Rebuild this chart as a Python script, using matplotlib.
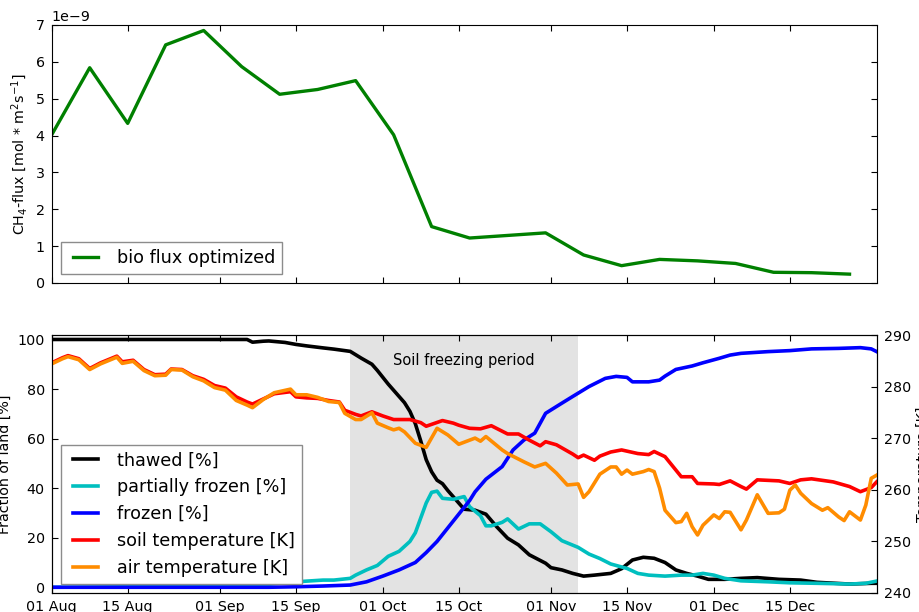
"""CH4 bio flux and soil freeze/thaw state, Aug-Dec.

Top: weekly optimized bio flux. Bottom: fraction of land in each
freeze state (left axis) with soil and air temperature (right axis).
"""

import numpy as np
import matplotlib
matplotlib.use('Agg')
import matplotlib.pyplot as plt
import matplotlib.dates as mdates


START = np.datetime64('2013-08-01')
END_DAY = 152

# weekly optimized bio flux [mol m-2 s-1], days after 01 Aug
flux_days = [0, 7, 14, 21, 28, 35, 42, 49, 56, 63, 70,
             77, 84, 91, 98, 105, 112, 119, 126, 133, 140, 147]
flux = [4.02, 5.84, 4.33, 6.46, 6.85, 5.87, 5.12, 5.25, 5.49, 4.02, 1.53,
        1.22, 1.29, 1.36, 0.76, 0.47, 0.64, 0.60, 0.53, 0.29, 0.28, 0.24]

# fraction of land [%]
thawed_days = [0, 36, 37, 39, 40, 43, 45, 47, 50, 52, 55, 57, 59, 60, 62,
               63, 65, 66, 67, 68, 69, 70, 71, 72, 73, 74, 76, 78, 80, 82,
               84, 86, 88, 91, 92, 94, 96, 98, 100, 103, 105, 107, 109, 111,
               113, 115, 117, 119, 121, 124, 127, 130, 134, 138, 141, 147,
               151, 152]
thawed = [100.0, 100.0, 98.9, 99.3, 99.4, 98.8, 98.0, 97.4, 96.6, 96.1,
          95.2, 92.5, 90.0, 87.5, 82.0, 79.5, 74.5, 71.0, 66.0, 59.0, 51.5,
          46.6, 43.2, 41.8, 39.0, 36.5, 31.5, 31.1, 29.5, 24.4, 19.8, 17.1,
          13.1, 9.7, 7.9, 7.0, 5.6, 4.5, 4.9, 5.6, 7.5, 11.0, 12.1, 11.7,
          10.0, 7.0, 5.6, 4.5, 3.2, 3.2, 3.6, 3.9, 3.2, 2.9, 2.0, 1.3,
          1.6, 1.6]

partial_days = [0, 36, 40, 45, 50, 52, 55, 56, 58, 60, 62, 64, 66, 67, 68,
                69, 70, 71, 72, 74, 76, 77, 79, 80, 81, 83, 84, 86, 88, 90,
                92, 94, 97, 99, 101, 103, 106, 108, 110, 113, 116, 118, 120,
                122, 124, 127, 132, 136, 141, 147, 150, 152]
partial = [0.0, 0.5, 1.2, 2.2, 2.9, 2.9, 3.6, 4.9, 7.0, 8.8, 12.5, 14.5,
           18.5, 22.0, 28.0, 34.0, 38.3, 38.8, 35.9, 35.5, 36.6, 32.5, 28.9,
           24.8, 24.8, 26.2, 27.6, 23.5, 25.6, 25.6, 22.4, 18.8, 16.1, 13.4,
           11.6, 9.4, 7.6, 5.6, 4.9, 4.5, 4.9, 4.9, 5.6, 4.9, 3.6, 2.6, 2.2,
           1.8, 1.6, 1.3, 1.6, 2.5]

frozen_days = [0, 40, 45, 50, 55, 58, 61, 64, 67, 69, 71, 73, 75, 77, 78,
               80, 83, 85, 87, 89, 91, 94, 96, 99, 102, 104, 106, 107, 110,
               112, 113, 115, 118, 120, 123, 125, 127, 132, 136, 140, 145,
               149, 151, 152]
frozen = [0.0, 0.0, 0.2, 0.5, 0.9, 2.2, 4.5, 7.0, 10.0, 14.0, 18.5, 24.0,
          29.5, 35.0, 38.5, 43.6, 48.7, 55.4, 59.4, 62.2, 70.2, 74.3, 77.0,
          81.0, 84.3, 85.1, 84.7, 82.9, 82.9, 83.6, 85.2, 87.9, 89.3, 90.6,
          92.4, 93.7, 94.4, 95.1, 95.5, 96.2, 96.4, 96.7, 96.2, 95.1]

# temperature [K]
soil_days = [0, 2, 3, 5, 7, 9, 12, 13, 15, 17, 19, 21, 22, 24, 26, 28, 30,
             32, 34, 36, 37, 39, 41, 44, 45, 47, 49, 51, 53, 54, 56, 57, 59,
             61, 63, 66, 68, 69, 72, 74, 75, 77, 79, 81, 84, 86, 88, 90, 91,
             93, 96, 97, 98, 100, 101, 103, 105, 108, 110, 111, 113, 115,
             116, 118, 119, 122, 123, 125, 127, 128, 130, 134, 136, 138, 140,
             144, 147, 149, 151, 152]
soil_temp = [284.6, 285.6, 286.0, 285.4, 283.5, 284.6, 285.9, 284.8, 285.1,
             283.3, 282.3, 282.4, 283.4, 283.3, 282.1, 281.4, 280.2, 279.7,
             278.0, 277.0, 276.6, 277.6, 278.6, 279.0, 278.0, 277.8, 277.7,
             277.3, 277.0, 275.4, 274.6, 274.3, 275.1, 274.3, 273.6, 273.6,
             273.0, 272.3, 273.4, 272.9, 272.5, 271.9, 271.8, 272.4, 270.8,
             270.8, 269.6, 268.5, 269.3, 268.7, 266.9, 266.2, 266.7, 265.7,
             266.5, 267.3, 267.7, 267.0, 266.8, 267.4, 266.4, 263.8, 262.5,
             262.5, 261.2, 261.1, 261.0, 261.7, 260.6, 260.1, 261.9, 261.7,
             261.2, 261.9, 262.1, 261.5, 260.6, 259.6, 260.4, 261.5]

air_days = [0, 2, 3, 5, 7, 9, 12, 13, 15, 17, 19, 21, 22, 24, 26, 28, 30,
            32, 34, 36, 37, 39, 41, 44, 45, 47, 49, 51, 53, 54, 56, 57, 59,
            60, 62, 63, 64, 65, 67, 69, 71, 73, 75, 78, 79, 80, 83, 84, 87,
            89, 91, 93, 95, 97, 98, 99, 101, 103, 104, 105, 106, 107, 109,
            110, 111, 112, 113, 115, 116, 117, 118, 119, 120, 122, 123, 124,
            125, 127, 128, 130, 132, 134, 135, 136, 137, 138, 140, 142, 143,
            145, 146, 147, 149, 150, 151, 152]
air_temp = [284.4, 285.4, 285.8, 285.2, 283.3, 284.4, 285.7, 284.5, 284.9,
            283.1, 282.1, 282.2, 283.3, 283.2, 281.9, 281.1, 279.8, 279.3,
            277.3, 276.4, 275.9, 277.5, 278.8, 279.5, 278.4, 278.4, 277.9,
            277.1, 276.9, 274.8, 273.6, 273.6, 274.9, 272.9, 272.0, 271.6,
            271.9, 271.2, 269.0, 268.2, 271.9, 270.6, 268.8, 270.0, 269.4,
            270.3, 267.7, 267.0, 265.4, 264.4, 265.1, 263.2, 260.9, 261.1,
            258.5, 259.6, 263.0, 264.4, 264.4, 263.0, 263.8, 263.0, 263.5,
            263.9, 263.5, 260.3, 256.0, 253.6, 253.8, 255.4, 252.8, 251.2,
            253.1, 255.1, 254.4, 255.7, 255.6, 252.2, 254.1, 259.0, 255.4,
            255.5, 256.2, 259.9, 260.9, 259.3, 257.3, 256.0, 256.5, 254.7,
            254.0, 255.7, 254.1, 257.0, 262.2, 262.8]

# soil freezing period, days after 01 Aug
freeze_start, freeze_end = 55, 97


def to_dates(days):
    """Day offsets after START as datetime64 values"""
    return START + np.asarray(days, dtype='timedelta64[D]')


def setup_style():
    plt.rcParams.update({
        'font.family': 'DejaVu Sans',
        'font.size': 10.3,
        'mathtext.default': 'regular',
        'axes.linewidth': 0.8,
        'xtick.direction': 'in',
        'ytick.direction': 'in',
        'xtick.top': True,
        'ytick.right': True,
        'xtick.major.size': 4,
        'ytick.major.size': 4,
        'xtick.major.pad': 5,
        'ytick.major.pad': 5,
        'legend.fontsize': 12.7,
        'legend.numpoints': 2,
        'legend.handlelength': 2.0,
        'legend.handletextpad': 0.8,
        'legend.borderaxespad': 0.5,
        'legend.fancybox': False,
        'legend.edgecolor': '0.55',
        'legend.framealpha': 1.0,
    })


def date_axis(ax, labels=True):
    ax.set_xlim(to_dates([0])[0], to_dates([END_DAY])[0])
    ax.xaxis.set_major_locator(mdates.DayLocator(bymonthday=[1, 15]))
    ax.xaxis.set_major_formatter(mdates.DateFormatter('%d %b'))
    if not labels:
        ax.tick_params(axis='x', labelbottom=False)


def flux_panel(ax):
    ax.plot(to_dates(flux_days), np.array(flux) * 1e-9, color='g', lw=2.4,
            label='bio flux optimized')
    ax.set_ylim(0, 7e-9)
    ax.set_yticks(np.arange(0, 8) * 1e-9)
    ax.set_ylabel('CH$_4$-flux [mol * m$^2$s$^{-1}$]')
    date_axis(ax, labels=False)
    ax.legend(loc='lower left')


def freeze_panel(ax):
    date_axis(ax)
    ax.axvspan(to_dates([freeze_start])[0], to_dates([freeze_end])[0],
               color='0.89', lw=0)
    l1, = ax.plot(to_dates(thawed_days), thawed, color='k', lw=2.6,
                  label='thawed [%]')
    l2, = ax.plot(to_dates(partial_days), partial, color='c', lw=2.6,
                  label='partially frozen [%]')
    l3, = ax.plot(to_dates(frozen_days), frozen, color='b', lw=2.6,
                  label='frozen [%]')
    ax.set_ylim(-2.2, 101.8)
    ax.set_yticks([0, 20, 40, 60, 80, 100])
    ax.set_ylabel('Fraction of land [%]')
    ax.text(to_dates([76])[0], 91.6, 'Soil freezing period',
            ha='center', va='center', fontsize=10.5)

    tx = ax.twinx()
    l4, = tx.plot(to_dates(soil_days), soil_temp, color='r', lw=2.6,
                  label='soil temperature [K]')
    l5, = tx.plot(to_dates(air_days), air_temp, color='darkorange', lw=2.6,
                  label='air temperature [K]')
    tx.set_ylim(240, 290)
    tx.set_ylabel('Temperature [K]')
    date_axis(tx)

    lines = [l1, l2, l3, l4, l5]
    tx.legend(lines, [l.get_label() for l in lines], loc='lower left')


def main():
    setup_style()
    fig = plt.figure(figsize=(9.2, 6.12), dpi=100)
    ax_top = fig.add_axes([0.0562, 0.5376, 0.8967, 0.4216])
    ax_bot = fig.add_axes([0.0562, 0.0315, 0.8967, 0.4211])
    flux_panel(ax_top)
    freeze_panel(ax_bot)
    fig.savefig('out.png', dpi=100, facecolor='white')


if __name__ == '__main__':
    main()
